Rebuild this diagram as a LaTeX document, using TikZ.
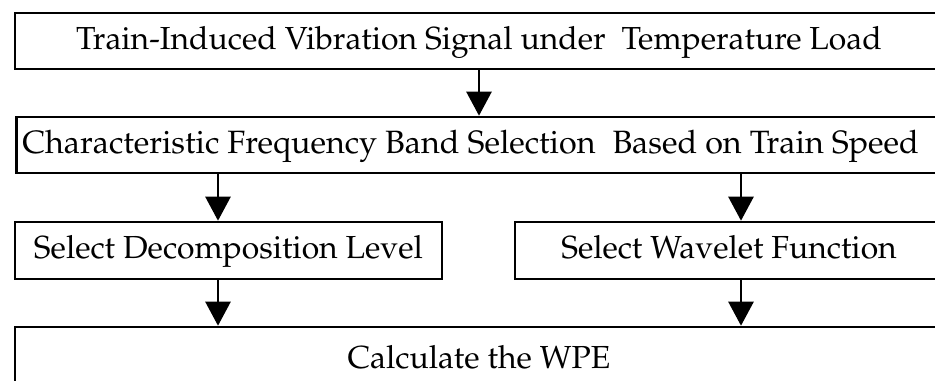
\documentclass[tikz,border=0pt]{standalone}
\IfFileExists{mathpazo.sty}{%
  \usepackage[T1]{fontenc}\usepackage{mathpazo}}{%
  \usepackage{fontspec}\setmainfont{Liberation Serif}}
\usetikzlibrary{arrows.meta}
\tikzset{
  stagebox/.style={draw=black, line width=2.6bp, rectangle, inner sep=0pt,
    font=\fontsize{32}{38}\selectfont, text height=23bp, text depth=7bp},
  flowarrow/.style={line width=2.6bp,
    -{Triangle[width=25bp,length=24bp]}}
}
\begin{document}
\begin{tikzpicture}[x=1bp,y=-1bp]
  \useasboundingbox (0,0) rectangle (935,380);
  \clip (0,0) rectangle (935,380);
  \fill[white] (0,0) rectangle (935,380);

  % column positions of the connectors
  \coordinate (mid) at (479,0);
  \coordinate (leftcol) at (218,0);
  \coordinate (rightcol) at (741,0);

  % stages
  \node[stagebox, minimum width=928bp, minimum height=56bp] (signal) at (479,41)
    {Train-Induced Vibration Signal under\ \ Temperature Load};
  \node[stagebox, minimum width=928bp, minimum height=56bp, anchor=west,
        text width=916bp, align=flush left, font=\fontsize{32.4}{38}\selectfont] (band) at (15,145)
    {Characteristic Frequency Band Selection\hspace{17bp}Based on Train Speed};
  \node[stagebox, minimum width=427bp, minimum height=57bp] (level) at (228.5,250.5)
    {Select Decomposition Level};
  \node[stagebox, minimum width=428bp, minimum height=57bp] (wavelet) at (729,250.5)
    {Select Wavelet Function};
  \node[stagebox, minimum width=928bp, minimum height=66bp] (wpe) at (479,360)
    {Calculate the WPE};

  % connectors
  \draw[flowarrow] (signal.south -| mid) -- (band.north -| mid);
  \draw[flowarrow] (band.south -| leftcol) -- (level.north -| leftcol);
  \draw[flowarrow] (band.south -| rightcol) -- (wavelet.north -| rightcol);
  \draw[flowarrow] (level.south -| leftcol) -- (wpe.north -| leftcol);
  \draw[flowarrow] (wavelet.south -| rightcol) -- (wpe.north -| rightcol);
\end{tikzpicture}
\end{document}
